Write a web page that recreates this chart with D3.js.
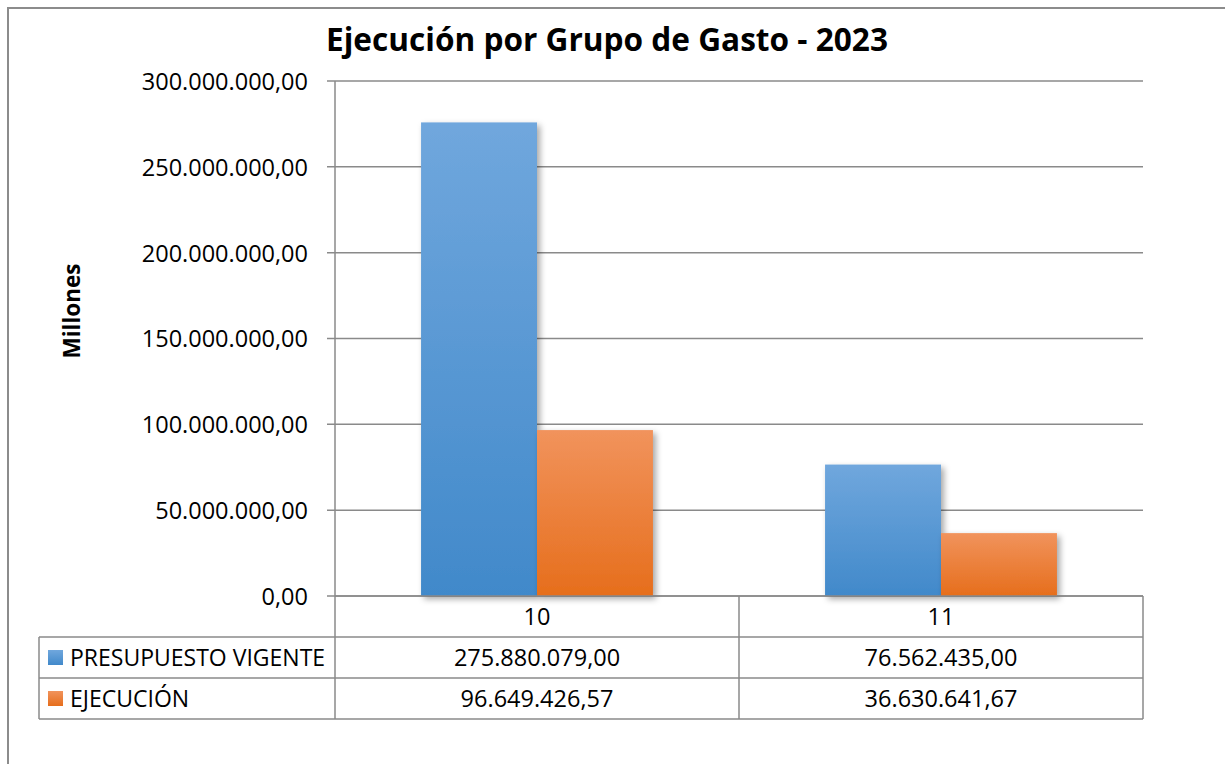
<!DOCTYPE html>
<html>
<head>
<meta charset="utf-8">
<script src="https://cdn.jsdelivr.net/npm/d3@7"></script>
<style>
  body { margin: 0; background: #fff; }
  svg { display: block; font-family: "Open Sans", sans-serif; }
</style>
</head>
<body>
<svg id="chart" width="1225" height="764"></svg>
<script>
// chart data
const categories = ["10", "11"];
const seriesNames = ["PRESUPUESTO VIGENTE", "EJECUCIÓN"];
const presupuesto = [275880079.00, 76562435.00];
const ejecucion = [96649426.57, 36630641.67];
const yTicks = [0, 50000000, 100000000, 150000000, 200000000, 250000000, 300000000];

const seriesValues = [presupuesto, ejecucion];
const gradients = [
    { id: "gradBlue", top: "#70a7dd", bottom: "#4189ca" },
    { id: "gradOrange", top: "#f1935c", bottom: "#e66e1c" }
];

const svg = d3.select("#chart");
const margin = { left: 335, right: 1143, top: 81, bottom: 596 };
const gridColor = "#8a8a8a";
const labelSize = "23.5px";

// number format like es-ES: 275.880.079,00
const locale = d3.formatLocale({ decimal: ",", thousands: ".", grouping: [3], currency: ["", ""] });
const fmt = locale.format(",.2f");

const defs = svg.append("defs");
gradients.forEach(g => {
    const lg = defs.append("linearGradient")
        .attr("id", g.id)
        .attr("x1", "0%").attr("x2", "0%")
        .attr("y1", "0%").attr("y2", "100%");
    lg.append("stop").attr("offset", "0%").attr("stop-color", g.top);
    lg.append("stop").attr("offset", "100%").attr("stop-color", g.bottom);
});
const shadow = defs.append("filter").attr("id", "shadow")
    .attr("x", "-20%").attr("y", "-20%").attr("width", "140%").attr("height", "140%");
shadow.append("feDropShadow")
    .attr("dx", 3).attr("dy", 3).attr("stdDeviation", 3)
    .attr("flood-color", "#000").attr("flood-opacity", 0.35);

// outer frame (right and bottom edges run past the window)
svg.append("rect")
    .attr("x", 8).attr("y", 8)
    .attr("width", 1240).attr("height", 780)
    .attr("fill", "none")
    .attr("stroke", "#8c8c8c")
    .attr("stroke-width", 2);

// title
svg.append("text")
    .attr("x", 607).attr("y", 51)
    .attr("text-anchor", "middle")
    .style("font-size", "31.6px")
    .style("font-weight", "bold")
    .text("Ejecución por Grupo de Gasto - 2023");

// scales
const y = d3.scaleLinear()
    .domain([0, 300000000])
    .range([margin.bottom, margin.top]);

const x0 = d3.scaleBand()
    .domain(categories)
    .range([margin.left, margin.right])
    .paddingInner(0.426)
    .paddingOuter(0.213);

const xCat = d3.scaleBand()
    .domain(categories)
    .range([margin.left, margin.right]);

const x1 = d3.scaleBand()
    .domain(d3.range(seriesNames.length))
    .range([0, x0.bandwidth()]);

// gridlines
svg.append("g")
    .selectAll("line")
    .data(yTicks)
    .join("line")
    .attr("x1", margin.left - 8)
    .attr("x2", margin.right)
    .attr("y1", d => y(d))
    .attr("y2", d => y(d))
    .attr("stroke", gridColor)
    .attr("stroke-width", 1.5);

// y axis
const yAxis = d3.axisLeft(y)
    .tickValues(yTicks)
    .tickFormat(fmt)
    .tickSize(8)
    .tickPadding(19);

const yAxisG = svg.append("g")
    .attr("transform", `translate(${margin.left},0)`)
    .call(yAxis);
yAxisG.select(".domain").remove();
yAxisG.selectAll(".tick line").remove();
yAxisG.selectAll("text")
    .style("font-family", "'Open Sans', sans-serif")
    .style("font-size", labelSize)
    .attr("fill", "#000")
    .attr("dy", "0.36em");

svg.append("line")
    .attr("x1", margin.left).attr("x2", margin.left)
    .attr("y1", margin.top).attr("y2", 719)
    .attr("stroke", gridColor).attr("stroke-width", 1.5);

// y axis title
svg.append("text")
    .attr("transform", "translate(80,311) rotate(-90)")
    .attr("text-anchor", "middle")
    .style("font-size", "22.5px")
    .style("font-weight", "bold")
    .text("Millones");

// bars
const groups = svg.append("g")
    .selectAll("g")
    .data(categories)
    .join("g")
    .attr("transform", d => `translate(${x0(d)},0)`);

groups.selectAll("rect")
    .data((d, i) => seriesValues.map((vals, s) => ({ s, v: vals[i] })))
    .join("rect")
    .attr("x", d => x1(d.s))
    .attr("width", x1.bandwidth())
    .attr("y", d => y(d.v))
    .attr("height", d => y(0) - y(d.v))
    .attr("fill", d => `url(#${gradients[d.s].id})`)
    .attr("filter", "url(#shadow)");

// data table
const rowH = 41;
const tableTop = margin.bottom;
const tableLeft = 39;
const rowY = [tableTop, tableTop + rowH, tableTop + 2 * rowH, tableTop + 3 * rowH];

const table = svg.append("g");

// horizontal rules
table.append("line")
    .attr("x1", margin.left).attr("x2", margin.right)
    .attr("y1", rowY[0]).attr("y2", rowY[0])
    .attr("stroke", gridColor).attr("stroke-width", 1.5);
[rowY[1], rowY[2], rowY[3]].forEach(yy => {
    table.append("line")
        .attr("x1", tableLeft).attr("x2", margin.right)
        .attr("y1", yy).attr("y2", yy)
        .attr("stroke", gridColor).attr("stroke-width", 1.5);
});
// vertical rules
table.append("line")
    .attr("x1", tableLeft).attr("x2", tableLeft)
    .attr("y1", rowY[1]).attr("y2", rowY[3])
    .attr("stroke", gridColor).attr("stroke-width", 1.5);
categories.forEach(c => {
    const xr = xCat(c) + xCat.bandwidth();
    table.append("line")
        .attr("x1", xr).attr("x2", xr)
        .attr("y1", rowY[0]).attr("y2", rowY[3])
        .attr("stroke", gridColor).attr("stroke-width", 1.5);
});

// category labels
table.selectAll(".cat")
    .data(categories)
    .join("text")
    .attr("class", "cat")
    .attr("x", d => xCat(d) + xCat.bandwidth() / 2)
    .attr("y", rowY[0] + rowH / 2)
    .attr("dy", "0.36em")
    .attr("text-anchor", "middle")
    .style("font-size", labelSize)
    .text(d => d);

// series rows
seriesNames.forEach((name, s) => {
    const cy = rowY[s + 1] + rowH / 2;
    table.append("rect")
        .attr("x", 48).attr("y", cy - 7.5)
        .attr("width", 15).attr("height", 15)
        .attr("fill", `url(#${gradients[s].id})`);
    table.append("text")
        .attr("x", 70).attr("y", cy)
        .attr("dy", "0.36em")
        .style("font-size", "23px")
        .text(name);
    table.selectAll(".val" + s)
        .data(categories)
        .join("text")
        .attr("class", "val" + s)
        .attr("x", d => xCat(d) + xCat.bandwidth() / 2)
        .attr("y", cy)
        .attr("dy", "0.36em")
        .attr("text-anchor", "middle")
        .style("font-size", labelSize)
        .text((d, i) => fmt(seriesValues[s][i]));
});
</script>
</body>
</html>
